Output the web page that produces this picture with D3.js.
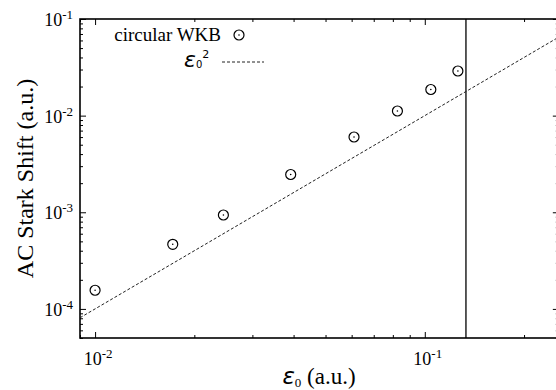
<!DOCTYPE html>
<html><head><meta charset="utf-8">
<script src="https://cdn.jsdelivr.net/npm/d3@7"></script>
<style>
body{margin:0;background:#fff}
svg{display:block}
text{font-family:"Liberation Serif","Times New Roman",serif;fill:#000}
</style>
</head><body>
<svg id="chart" width="556" height="390"></svg>
<script>
// Field amplitude (a.u.) and circular-WKB AC Stark shift (a.u.)
const fieldAmp   = [0.0100, 0.0172, 0.0245, 0.0392, 0.0610, 0.0826, 0.1043, 0.1260];
const starkShift = [1.56e-4, 4.66e-4, 9.37e-4, 2.46e-3, 6.01e-3, 1.117e-2, 1.864e-2, 2.897e-2];
// Reference curve endpoints (shift = amplitude squared)
const refAmp = [0.009, 0.255];
// Vertical marker position
const cutoffAmp = 0.1333;
// Axis ranges and labelled decades
const xDomain = [0.009, 0.255];
const yDomain = [5e-5, 0.1];
const xMajor = [0.01, 0.1];
const xMajorExp = ["-2", "-1"];
const yMajor = [1e-4, 1e-3, 1e-2, 1e-1];
const yMajorExp = ["-4", "-3", "-2", "-1"];

const svg = d3.select("#chart");
const L = 80, T = 19, B = 338;

// the frame runs a little past the right edge of the page
const x = d3.scaleLog().domain([0.009, 0.25]).range([L, 556]);
const R = x(xDomain[1]);
const y = d3.scaleLog().domain(yDomain).range([B, T]);

function minors(dom) {
  const out = [];
  for (let d = -6; d <= 0; d++) for (let k = 2; k <= 9; k++) {
    const v = k * Math.pow(10, d);
    if (v >= dom[0] * 0.999 && v <= dom[1] * 1.001) out.push(v);
  }
  return out;
}
const xMinor = minors(xDomain);
const yMinor = minors(yDomain);

const g = svg.append("g");

function tickAxis(gen, tx, ty, vals, size) {
  const a = g.append("g").attr("transform", `translate(${tx},${ty})`)
    .call(gen.tickValues(vals).tickSize(size).tickFormat(""));
  a.select(".domain").remove();
  a.selectAll("line").attr("stroke", "#000").attr("stroke-width", 1);
}
// inward ticks on all four sides
tickAxis(d3.axisBottom(x), 0, B, xMajor, -6);
tickAxis(d3.axisBottom(x), 0, B, xMinor, -3);
tickAxis(d3.axisTop(x), 0, T, xMajor, -6);
tickAxis(d3.axisTop(x), 0, T, xMinor, -3);
tickAxis(d3.axisLeft(y), L, 0, yMajor, -6);
tickAxis(d3.axisLeft(y), L, 0, yMinor, -3);
tickAxis(d3.axisRight(y), R, 0, yMajor, -6);
tickAxis(d3.axisRight(y), R, 0, yMinor, -3);

// frame
g.append("rect").attr("x", L).attr("y", T).attr("width", R - L).attr("height", B - T)
  .attr("fill", "none").attr("stroke", "#000").attr("stroke-width", 1.6);

// tick labels
xMajor.forEach((v, i) => {
  const t = g.append("text").attr("x", x(v) + 3).attr("y", 365)
    .attr("text-anchor", "middle").style("font-size", "18px");
  t.append("tspan").text("10");
  t.append("tspan").attr("dy", -7).style("font-size", "13px").text(xMajorExp[i]);
});
yMajor.forEach((v, i) => {
  const t = g.append("text").attr("x", 73).attr("y", y(v) + 7)
    .attr("text-anchor", "end").style("font-size", "18px");
  t.append("tspan").text("10");
  t.append("tspan").attr("dy", -7).style("font-size", "13px").text(yMajorExp[i]);
});

// axis titles
const xl = g.append("text").attr("x", 319).attr("y", 384).attr("text-anchor", "middle")
  .style("font-size", "23px");
xl.append("tspan").style("font-family", "DejaVu Sans").style("font-style", "italic").text("ε");
xl.append("tspan").attr("dy", 3).style("font-size", "13px").text("0");
xl.append("tspan").attr("dy", -3).text(" (a.u.)");

g.append("text").attr("transform", `translate(33,${(T + B) / 2}) rotate(-90)`)
  .attr("text-anchor", "middle").style("font-size", "24px").text("AC Stark Shift (a.u.)");

// clip region for the data
svg.append("clipPath").attr("id", "plotArea").append("rect")
  .attr("x", L).attr("y", T).attr("width", R - L).attr("height", B - T);
const p = svg.append("g").attr("clip-path", "url(#plotArea)");

// vertical marker
p.append("line").attr("x1", x(cutoffAmp)).attr("x2", x(cutoffAmp))
  .attr("y1", T).attr("y2", B).attr("stroke", "#000").attr("stroke-width", 1.3);

// reference curve
const refLine = d3.line().x(d => x(d)).y(d => y(d * d));
p.append("path").datum(refAmp).attr("d", refLine)
  .attr("fill", "none").attr("stroke", "#222").attr("stroke-width", 1)
  .attr("stroke-dasharray", "3,2");

// data points
const pts = fieldAmp.map((v, i) => [v, starkShift[i]]);
const marks = p.selectAll("g.pt").data(pts).join("g").attr("class", "pt")
  .attr("transform", d => `translate(${x(d[0])},${y(d[1])})`);
marks.append("circle").attr("r", 5).attr("fill", "none").attr("stroke", "#000").attr("stroke-width", 1.2);
marks.append("circle").attr("r", 0.8).attr("fill", "#000");

// legend
const lg = svg.append("g");
lg.append("text").attr("x", 221).attr("y", 41).attr("text-anchor", "end")
  .style("font-size", "19px").text("circular WKB");
lg.append("circle").attr("cx", 239).attr("cy", 35).attr("r", 5)
  .attr("fill", "none").attr("stroke", "#000").attr("stroke-width", 1.2);
lg.append("circle").attr("cx", 239).attr("cy", 35).attr("r", 0.8).attr("fill", "#000");
const le = lg.append("text").attr("x", 184).attr("y", 67).style("font-size", "22px");
le.append("tspan").style("font-family", "DejaVu Sans").style("font-style", "italic").text("ε");
le.append("tspan").attr("dy", 1).style("font-size", "10px").style("font-family", "DejaVu Sans").text("0");
le.append("tspan").attr("dy", -10).style("font-size", "11px").style("font-family", "DejaVu Sans").text("2");
lg.append("line").attr("x1", 222).attr("x2", 264).attr("y1", 62).attr("y2", 62)
  .attr("stroke", "#222").attr("stroke-width", 1).attr("stroke-dasharray", "3,2");
</script>
</body></html>
